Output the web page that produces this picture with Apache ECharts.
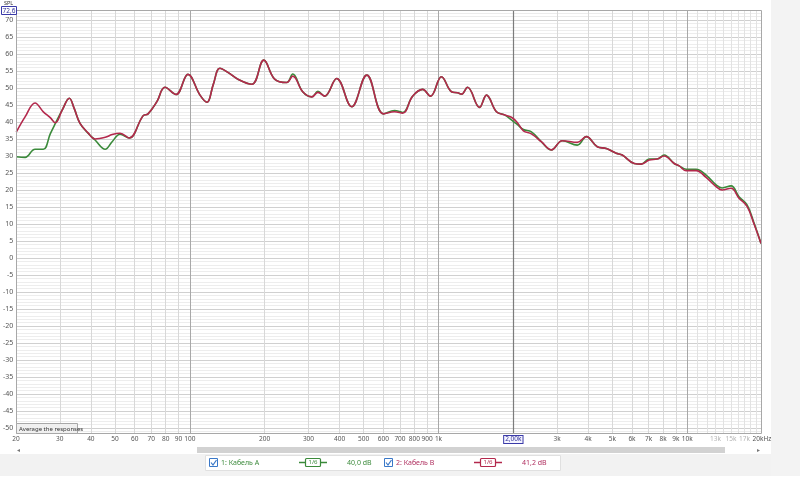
<!DOCTYPE html>
<html><head><meta charset="utf-8">
<script src="https://cdn.jsdelivr.net/npm/echarts@6/dist/echarts.min.js"></script>
<style>html,body{margin:0;padding:0;background:#fff}#c{width:800px;height:500px}</style>
</head><body><div id="c"></div>
<script>
// ---- data ----
const freqs = [20, 21.7, 23.8, 25.7, 27.4, 28.7, 30.6, 32.7, 34.2, 36.1, 38.9, 41.5, 45.6, 48.6, 52.3, 56.9, 64.7, 67.8, 73.6, 79.3, 87.8, 98.1, 109.7, 117, 124, 131.9, 142, 155.8, 177.4, 198, 219, 245, 259, 284, 309, 327, 348, 389, 447, 514, 601, 665, 717, 786, 862, 928, 1027, 1127, 1192, 1237, 1307, 1461, 1558, 1709, 1840, 1963, 2076, 2194, 2363, 2590, 2842, 3146, 3614, 3930, 4349, 4728, 5185, 5480, 6122, 6534, 7036, 7574, 8080, 8866, 9284, 9904, 10862, 11916, 13072, 13818, 15016, 16164, 17416, 18578, 19816];
const cableA = [29.8, 29.6, 32.0, 32.0, 36.5, 39.5, 43.5, 47.0, 44.0, 39.6, 36.7, 34.7, 32.0, 34.2, 36.4, 35.3, 41.8, 42.4, 46.0, 50.2, 48.1, 54.0, 47.9, 45.8, 51.0, 55.8, 54.6, 52.6, 51.1, 58.2, 52.6, 51.6, 54.1, 48.9, 47.4, 49.0, 47.6, 52.8, 44.5, 53.8, 42.4, 43.4, 42.8, 47.6, 49.6, 47.6, 53.3, 48.9, 48.6, 48.2, 50.2, 44.3, 47.9, 43.0, 42.1, 40.6, 39.2, 37.8, 37.1, 34.2, 31.8, 34.5, 33.2, 35.7, 32.7, 32.2, 30.8, 30.3, 27.8, 27.6, 29.1, 29.1, 30.3, 27.8, 27.1, 26.1, 26.1, 24.4, 21.5, 20.6, 21.2, 18.0, 15.6, 10.3, 4.3];
const cableB = [37.0, 41.5, 45.6, 43.0, 41.3, 39.8, 43.5, 47.0, 44.0, 39.6, 36.8, 35.0, 35.5, 36.3, 36.7, 35.3, 41.8, 42.4, 46.0, 50.2, 48.1, 54.0, 47.9, 45.8, 51.0, 55.8, 54.6, 52.6, 51.1, 58.2, 52.6, 51.6, 53.5, 48.9, 47.4, 48.7, 47.6, 52.8, 44.5, 53.8, 42.4, 43.0, 42.6, 47.6, 49.6, 47.6, 53.3, 48.9, 48.6, 48.2, 50.2, 44.3, 47.9, 43.0, 42.1, 41.4, 39.8, 37.4, 36.5, 34.2, 31.8, 34.5, 34.0, 35.7, 32.7, 32.2, 30.8, 30.3, 27.8, 27.6, 28.8, 29.1, 30.0, 27.8, 27.1, 25.7, 25.7, 23.7, 21.0, 20.0, 20.5, 17.6, 15.2, 10.0, 4.3];
const seriesNames = ['1: Кабель A', '2: Кабель B'];
const legendValues = ['40,0 dB', '41,2 dB'];
const xLabelFreqs = [20, 30, 40, 50, 60, 70, 80, 90, 100, 200, 300, 400, 500, 600, 700, 800, 900, 1000, 3000, 4000, 5000, 6000, 7000, 8000, 9000, 10000, 20000];
const xLabelTexts = ['20', '30', '40', '50', '60', '70', '80', '90', '100', '200', '300', '400', '500', '600', '700', '800', '900', '1k', '3k', '4k', '5k', '6k', '7k', '8k', '9k', '10k', '20kHz'];
const xDimFreqs = [13000, 15000, 17000];
const xDimTexts = ['13k', '15k', '17k'];
const xMajorFreqs = [100, 1000, 10000];
const xMinorFreqs = [30, 40, 50, 60, 70, 80, 90, 200, 300, 400, 500, 600, 700, 800, 900, 2000, 3000, 4000, 5000, 6000, 7000, 8000, 9000, 11000, 12000, 13000, 14000, 15000, 16000, 17000, 18000, 19000];
const cursorFreq = 2000;
const cursorText = '2,00k';
const topValueText = '72,6';

// ---- styles ----
const FONT = 'Noto Sans';
const GREEN = '#3a8a3a', RED = '#b3284c';
const GREEN_T = '#3d8b3d', RED_T = '#b03060';
const CLEAR = 'rgba(0,0,0,0)';

const gridLines = [];
xMinorFreqs.forEach(f => {
  if (f === cursorFreq) return;
  gridLines.push({xAxis: f, lineStyle: {color: f > 10000 ? '#e2e2e2' : '#d8d8d8', width: 1, type: 'solid'}, label: {show: false}});
});
xMajorFreqs.forEach(f => gridLines.push({xAxis: f, lineStyle: {color: '#a8a8a8', width: 1, type: 'solid'}, label: {show: false}}));
const labelLines = [];
xLabelFreqs.forEach((f, i) => labelLines.push({xAxis: f, lineStyle: {color: CLEAR, width: 1}, label: {show: true, position: 'start', distance: 3, formatter: xLabelTexts[i], color: '#555', fontSize: 6.5, fontFamily: FONT}}));
xDimFreqs.forEach((f, i) => labelLines.push({xAxis: f, lineStyle: {color: CLEAR, width: 1}, label: {show: true, position: 'start', distance: 3, formatter: xDimTexts[i], color: '#b4b4b4', fontSize: 6.5, fontFamily: FONT}}));
labelLines.push({xAxis: cursorFreq, lineStyle: {color: '#7c7c7c', width: 1.2, type: 'solid'}, label: {show: true, position: 'start', distance: 3, formatter: cursorText, color: '#333399', fontSize: 6.5, fontFamily: FONT, borderColor: '#3a3aa8', borderWidth: 1, backgroundColor: '#f4f4ff', padding: [0, 1, 0, 1]}});

const ptsA = freqs.map((f, i) => [f, cableA[i]]);
const ptsB = freqs.map((f, i) => [f, cableB[i]]);

const chart = echarts.init(document.getElementById('c'), null, {renderer: 'canvas'});

function legendItem(x, name, tcol) {
  return [
    {type: 'rect', shape: {x: x + 0.5, y: 458.5, width: 8, height: 8}, style: {fill: '#fff', stroke: '#3a78c8', lineWidth: 1}, z: 100},
    {type: 'polyline', shape: {points: [[x + 2, 462.5], [x + 4, 465], [x + 7.5, 460]]}, style: {stroke: '#3a78c8', lineWidth: 1.2, fill: null}, z: 101},
    {type: 'text', x: x + 12, y: 462.5, style: {text: name, fill: tcol, fontSize: 7, fontFamily: FONT, verticalAlign: 'middle'}, z: 100}
  ];
}
function symbolItem(x, col, tcol, val, vx) {
  return [
    {type: 'line', shape: {x1: x, y1: 462.5, x2: x + 28, y2: 462.5}, style: {stroke: col, lineWidth: 1.5}, z: 100},
    {type: 'rect', shape: {x: x + 6.5, y: 458.5, width: 15, height: 8, r: 1}, style: {fill: '#fff', stroke: col, lineWidth: 1.2}, z: 101},
    {type: 'text', x: x + 14, y: 462.5, style: {text: '1/6', fill: col, fontSize: 6, fontFamily: FONT, align: 'center', verticalAlign: 'middle'}, z: 102},
    {type: 'text', x: vx, y: 462.5, style: {text: val, fill: tcol, fontSize: 7, fontFamily: FONT, verticalAlign: 'middle'}, z: 100}
  ];
}

const graphics = [
  {type: 'rect', shape: {x: 771, y: 0, width: 29, height: 476}, style: {fill: '#f3f3f3'}, z: -10},
  {type: 'rect', shape: {x: 0, y: 454, width: 771, height: 22}, style: {fill: '#f2f2f2'}, z: -10},
  {type: 'rect', shape: {x: 205.5, y: 455.5, width: 355, height: 15}, style: {fill: '#fff', stroke: '#e0e0e0', lineWidth: 1}, z: -9},
  {type: 'line', shape: {x1: 16, y1: 13.5, x2: 762, y2: 13.5}, style: {stroke: '#ececec', lineWidth: 1}, z: -5},
  {type: 'line', shape: {x1: 16, y1: 16.5, x2: 762, y2: 16.5}, style: {stroke: '#ececec', lineWidth: 1}, z: -5},
  {type: 'line', shape: {x1: 16, y1: 431.5, x2: 762, y2: 431.5}, style: {stroke: '#ececec', lineWidth: 1}, z: -5},
  {type: 'rect', shape: {x: 16.5, y: 10.5, width: 745, height: 423}, style: {fill: null, stroke: '#a8a8a8', lineWidth: 1}, z: 50},
  {type: 'text', x: 4, y: 0.5, style: {text: 'SPL', fill: '#333', fontSize: 5.5, fontFamily: FONT}, z: 100},
  {type: 'rect', shape: {x: 1.5, y: 6.5, width: 15, height: 8}, style: {fill: '#fff', stroke: '#3a3aa8', lineWidth: 1}, z: 100},
  {type: 'text', x: 9, y: 10.8, style: {text: topValueText, fill: '#333399', fontSize: 6.5, fontFamily: FONT, align: 'center', verticalAlign: 'middle'}, z: 101},
  {type: 'rect', shape: {x: 16.5, y: 423.5, width: 61, height: 10}, style: {fill: '#f0f0f0', stroke: '#a8a8a8', lineWidth: 1}, z: 100},
  {type: 'text', x: 19, y: 428.8, style: {text: 'Average the responses', fill: '#333', fontSize: 6, fontFamily: FONT, verticalAlign: 'middle'}, z: 101},
  {type: 'text', x: 17, y: 450, style: {text: '◂', fill: '#777', fontSize: 6, fontFamily: 'DejaVu Sans', verticalAlign: 'middle'}, z: 100},
  {type: 'rect', shape: {x: 197, y: 447, width: 528, height: 6}, style: {fill: '#d2d2d2'}, z: 100},
  {type: 'text', x: 757, y: 450, style: {text: '▸', fill: '#777', fontSize: 6, fontFamily: 'DejaVu Sans', verticalAlign: 'middle'}, z: 100}
].concat(
  legendItem(209, seriesNames[0], GREEN_T),
  symbolItem(299, GREEN, GREEN_T, legendValues[0], 347),
  legendItem(384, seriesNames[1], RED_T),
  symbolItem(474, RED, RED_T, legendValues[1], 522)
);

chart.setOption({
  animation: false,
  backgroundColor: '#fff',
  grid: [
    {left: 16, right: 38, top: 20, bottom: 72},
    {left: 16, right: 38, top: 11, bottom: 67}
  ],
  xAxis: [
    {gridIndex: 0, type: 'log', logBase: 10, min: 20, max: 20000, show: false},
    {gridIndex: 1, type: 'log', logBase: 10, min: 20, max: 20000, show: false}
  ],
  yAxis: [
    {gridIndex: 0, type: 'value', min: -50, max: 70, interval: 5,
     axisLine: {show: false}, axisTick: {show: false},
     axisLabel: {fontSize: 7, color: '#555', margin: 3, fontFamily: FONT},
     splitLine: {show: true, lineStyle: {color: '#d0d0d0', width: 1}},
     minorTick: {show: false, splitNumber: 5},
     minorSplitLine: {show: true, lineStyle: {color: '#ededed', width: 1}}},
    {gridIndex: 1, type: 'value', min: 0, max: 1, show: false}
  ],
  graphic: {elements: graphics},
  series: [
    {type: 'line', xAxisIndex: 1, yAxisIndex: 1, data: [[20, 0], [20000, 0]], symbol: 'none', lineStyle: {color: CLEAR, width: 0}, silent: true, z: 1,
     markLine: {silent: true, symbol: ['none', 'none'], animation: false, label: {show: false}, data: gridLines}},
    {type: 'line', xAxisIndex: 1, yAxisIndex: 1, data: [[20, 0], [20000, 0]], symbol: 'none', lineStyle: {color: CLEAR, width: 0}, silent: true, z: 1,
     markLine: {silent: true, symbol: ['none', 'none'], animation: false, data: labelLines}},
    {name: seriesNames[0], type: 'line', xAxisIndex: 0, yAxisIndex: 0, data: ptsA, smooth: 0.4, showSymbol: false, symbol: 'none',
     lineStyle: {color: GREEN, width: 1.6}, z: 5},
    {name: seriesNames[1], type: 'line', xAxisIndex: 0, yAxisIndex: 0, data: ptsB, smooth: 0.4, showSymbol: false, symbol: 'none',
     lineStyle: {color: RED, width: 1.6}, z: 6}
  ]
});
</script>
</body></html>
